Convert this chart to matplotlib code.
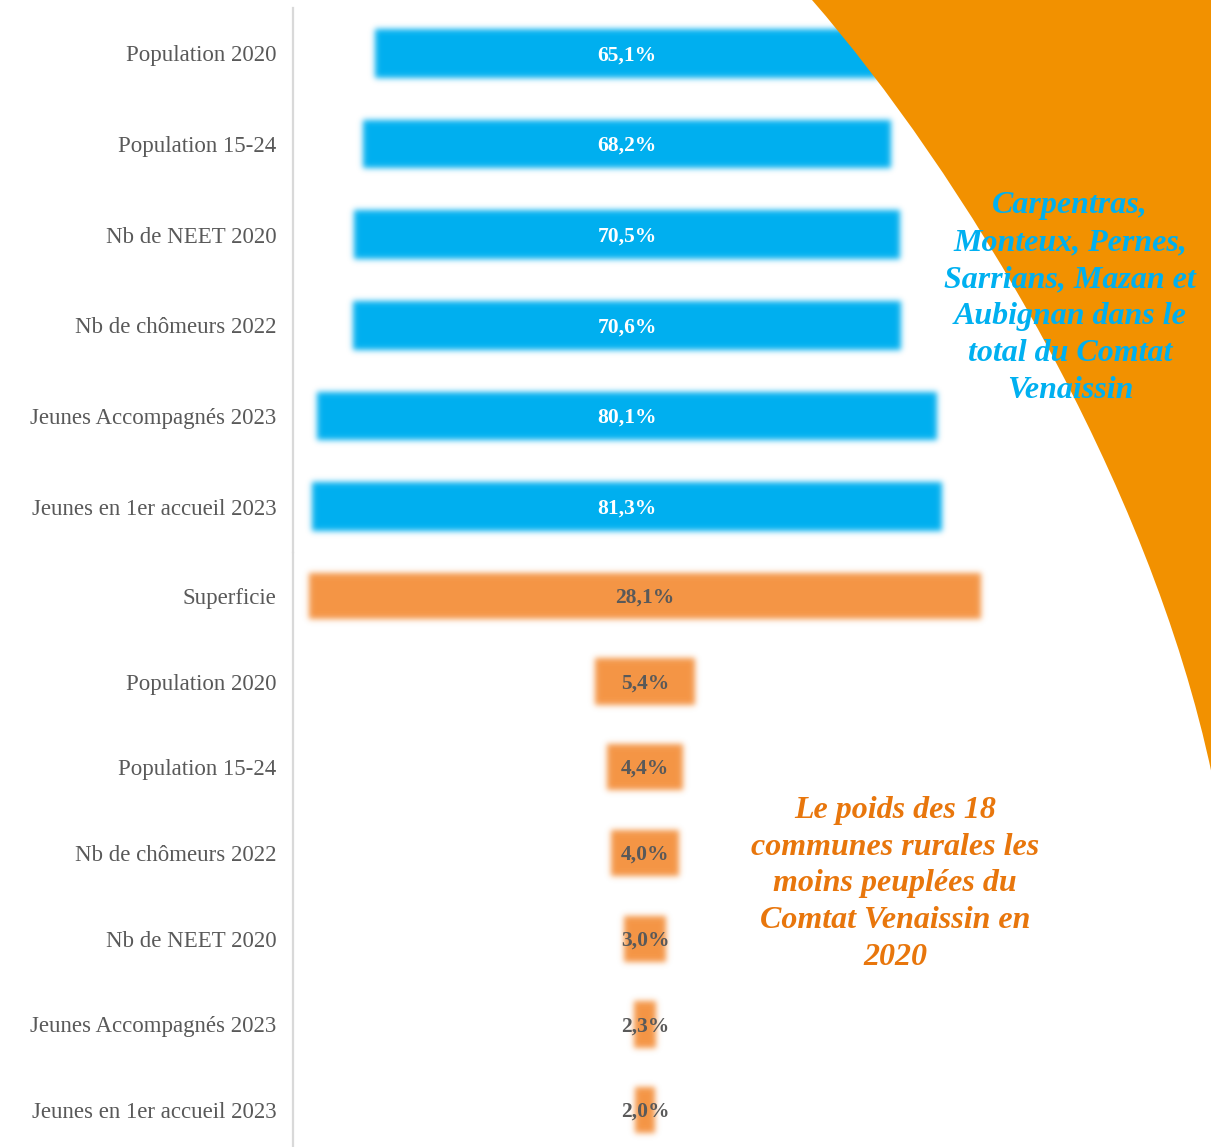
import numpy as np
import matplotlib
matplotlib.use('Agg')
import matplotlib.pyplot as plt
from matplotlib.path import Path
from matplotlib.patches import PathPatch

# Part 1: share of the 6 main towns in the Comtat Venaissin total
blue_labels = ['Population 2020', 'Population 15-24', 'Nb de NEET 2020',
               'Nb de chômeurs 2022', 'Jeunes Accompagnés 2023',
               'Jeunes en 1er accueil 2023']
blue_values = [65.1, 68.2, 70.5, 70.6, 80.1, 81.3]

# Part 2: weight of the 18 least populated rural communes
orange_labels = ['Superficie', 'Population 2020', 'Population 15-24',
                 'Nb de chômeurs 2022', 'Nb de NEET 2020',
                 'Jeunes Accompagnés 2023', 'Jeunes en 1er accueil 2023']
orange_values = [28.1, 5.4, 4.4, 4.0, 3.0, 2.3, 2.0]
# funnel bar lengths as drawn in the original (not proportional to the labels)
orange_bar_len = [86.6, 12.9, 9.9, 8.9, 5.4, 2.8, 2.5]

BLUE = '#00B0F0'
ORANGE_BAR = '#F59646'
ORANGE_BG = '#F29100'
ORANGE_TXT = '#E8760C'
GREY = '#595959'
SERIF = ['Liberation Serif', 'DejaVu Serif']

W, H = 1211, 1147
PX_PER_UNIT = 7.75


def blur_filter(sigma):
    # gaussian blur for the bars (agg filter), done on premultiplied colours
    pad = int(3 * sigma)
    xs = np.arange(-pad, pad + 1)
    k = np.exp(-xs ** 2 / (2 * sigma ** 2))
    k /= k.sum()

    def blur(a):
        out = np.zeros_like(a)
        for i, w in zip(xs, k):
            out += w * np.roll(a, i, axis=0)
        out2 = np.zeros_like(out)
        for i, w in zip(xs, k):
            out2 += w * np.roll(out, i, axis=1)
        return out2

    def f(img, dpi):
        a = np.pad(img, ((pad, pad), (pad, pad), (0, 0)))
        alpha = a[..., 3:4]
        rgb = blur(a[..., :3] * alpha)
        al = blur(alpha)
        res = np.zeros_like(a)
        res[..., :3] = np.where(al > 1e-4, rgb / np.maximum(al, 1e-4), 0)
        res[..., 3:4] = al
        return res, -pad, -pad
    return f


def fmt(v):
    return f'{v:.1f}'.replace('.', ',') + '%'


fig = plt.figure(figsize=(W / 100, H / 100), dpi=100)
fig.patch.set_facecolor('white')


def fx(x):
    return x / W


def fy(y):
    return 1 - y / H


# orange decorative shape in the top right corner
verts = [(fx(812), fy(0)), (fx(960), fy(170)), (fx(1150), fy(480)), (fx(1212), fy(775)),
         (fx(1212), fy(-1)), (fx(812), fy(-1))]
codes = [Path.MOVETO, Path.CURVE4, Path.CURVE4, Path.CURVE4, Path.LINETO, Path.CLOSEPOLY]
shape = PathPatch(Path(verts, codes), facecolor=ORANGE_BG, edgecolor='none',
                  transform=fig.transFigure, zorder=0)
fig.patches.append(shape)

xmax = (W - 293) / PX_PER_UNIT
blue_center = (627 - 293) / PX_PER_UNIT
orange_center = (645 - 293) / PX_PER_UNIT


def setup(ax, labels):
    ax.set_facecolor('none')
    ax.set_xlim(0, xmax)
    ax.set_ylim(len(labels) - 0.5, -0.5)
    ax.set_xticks([])
    ax.set_yticks(range(len(labels)))
    ax.set_yticklabels(labels, fontsize=16.5, color=GREY, family=SERIF)
    ax.tick_params(axis='y', length=0, pad=12)
    for s in ['top', 'right', 'bottom']:
        ax.spines[s].set_visible(False)
    ax.spines['left'].set_color('#d9d9d9')
    ax.spines['left'].set_linewidth(1.6)


ax1 = fig.add_axes([293 / W, 1 - 552 / H, (W - 293) / W, 544 / H])
setup(ax1, blue_labels)
bars = ax1.barh(range(len(blue_values)), blue_values, height=0.54,
                left=[blue_center - v / 2 for v in blue_values], color=BLUE)
for b in bars:
    b.set_agg_filter(blur_filter(3))
for i, v in enumerate(blue_values):
    ax1.text(blue_center, i + 0.02, fmt(v), ha='center', va='center', color='white',
             fontsize=15.5, fontweight='bold', family=SERIF)

ax2 = fig.add_axes([293 / W, 1 - 1153 / H, (W - 293) / W, 600 / H])
setup(ax2, orange_labels)
bars = ax2.barh(range(len(orange_bar_len)), orange_bar_len, height=0.54,
                left=[orange_center - v / 2 for v in orange_bar_len], color=ORANGE_BAR)
for b in bars:
    b.set_agg_filter(blur_filter(3))
for i, v in enumerate(orange_values):
    ax2.text(orange_center, i + 0.02, fmt(v), ha='center', va='center', color=GREY,
             fontsize=15.5, fontweight='bold', family=SERIF)

fig.text(fx(1070), fy(298),
         'Carpentras,\nMonteux, Pernes,\nSarrians, Mazan et\nAubignan dans le\ntotal du Comtat\nVenaissin',
         ha='center', va='center', multialignment='center', color=BLUE,
         fontsize=23, fontweight='bold', fontstyle='italic', family=SERIF,
         linespacing=1.36, zorder=5)
fig.text(fx(895), fy(884),
         'Le poids des 18\ncommunes rurales les\nmoins peuplées du\nComtat Venaissin en\n2020',
         ha='center', va='center', multialignment='center', color=ORANGE_TXT,
         fontsize=23, fontweight='bold', fontstyle='italic', family=SERIF,
         linespacing=1.36, zorder=5)

fig.savefig('out.png', dpi=100)
